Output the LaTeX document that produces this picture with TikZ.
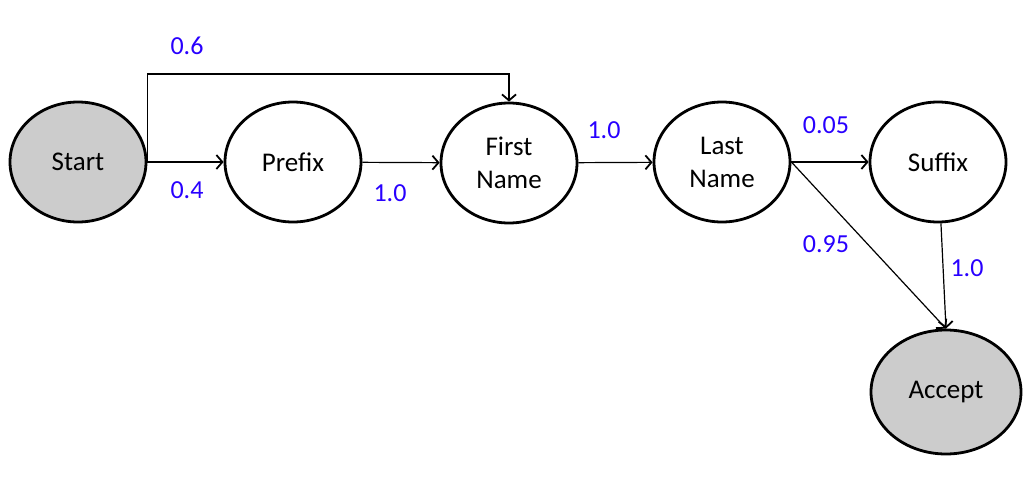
\documentclass[tikz,border=0pt]{standalone}
\usepackage{fontspec}
\setmainfont{Carlito}
\usetikzlibrary{arrows.meta,shapes.geometric,positioning}
\definecolor{probblue}{RGB}{40,0,255}
\definecolor{stategray}{RGB}{204,204,204}
\tikzset{
  basic/.style  = {draw, ellipse, line width=2.8pt, inner sep=0pt, align=center,
                   font=\fontsize{27}{33}\selectfont, minimum width=136pt, minimum height=120pt},
  state/.style  = {basic, fill=white},
  final/.style  = {basic, fill=stategray},
  prob/.style   = {text=probblue, font=\fontsize{26}{30}\selectfont, inner sep=0pt}
}

\begin{document}
\begin{tikzpicture}[x=1pt, y=-1pt,
  >={Straight Barb[length=6pt, width=14pt, line width=1.8pt]},
  every edge/.style={draw, ->, line width=1.2pt}]
\useasboundingbox (0,0) rectangle (1036,482);

% states of the chain
\node[final] (start)  at (78,162)  {Start};
\node[state] (prefix) at (293,162) {Prefix};
\node[state] (first)  at (509,163) {First\\Name};
\node[state] (last)   at (722,162) {Last\\Name};
\node[state] (suffix) at (938,162) {Suffix};
\node[final, minimum width=150pt, minimum height=124pt] (accept) at (946,392) {Accept};

% the jump over Prefix
\coordinate (skip) at (300,74);
\draw[->, line width=1.2pt] (start.east) |- (skip) -| (first.north);

% transitions
\path (start)  edge (prefix)
      (prefix) edge (first)
      (first)  edge (last)
      (last)   edge (suffix)
      (last.east) edge (accept.north)
      (suffix) edge (accept.north);

% transition probabilities
\begin{scope}[every node/.style={prob}]
\node (p1) at (187,46)  {0.6};
\node (p2) at (187,190) {0.4};
\node (p3) at (390,193) {1.0};
\node (p4) at (604,130) {1.0};
\node (p5) at (826,125) {0.05};
\node (p6) at (826,244) {0.95};
\node (p7) at (967,268) {1.0};
\end{scope}
\end{tikzpicture}
\end{document}
